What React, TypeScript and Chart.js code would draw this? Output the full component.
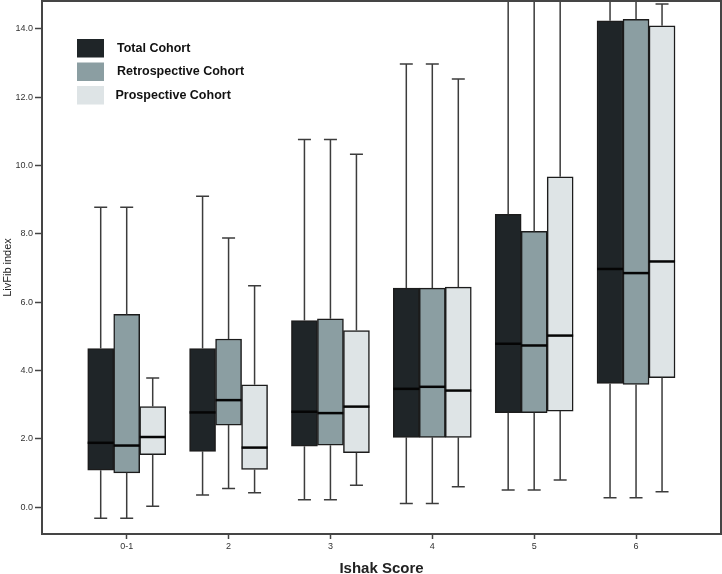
import React, { useEffect, useRef } from "react";
import { Chart, registerables } from "chart.js";

Chart.register(...registerables);

const categories = ["0-1", "2", "3", "4", "5", "6"];
const seriesNames = ["Total Cohort", "Retrospective Cohort", "Prospective Cohort"];
const seriesColors = ["#1f2528", "#8b9ea2", "#dee4e6"];
const yTicks = [0, 2, 4, 6, 8, 10, 12, 14];

// Total cohort
const totalMin = [-0.33, 0.35, 0.21, 0.1, 0.5, 0.27];
const totalQ1 = [1.08, 1.63, 1.78, 2.04, 2.76, 3.62];
const totalMedian = [1.88, 2.77, 2.79, 3.46, 4.78, 6.97];
const totalQ3 = [4.64, 4.64, 5.46, 6.41, 8.57, 14.24];
const totalMax = [8.78, 9.1, 10.76, 12.97, 16.0, 16.0];

// Retrospective cohort
const retroMin = [-0.33, 0.54, 0.21, 0.1, 0.5, 0.27];
const retroQ1 = [1.0, 2.4, 1.81, 2.04, 2.76, 3.59];
const retroMedian = [1.8, 3.13, 2.75, 3.52, 4.73, 6.85];
const retroQ3 = [5.64, 4.92, 5.51, 6.41, 8.07, 14.28];
const retroMax = [8.78, 7.88, 10.76, 12.97, 16.0, 16.0];

// Prospective cohort
const prospMin = [0.02, 0.42, 0.64, 0.59, 0.79, 0.45];
const prospQ1 = [1.53, 1.1, 1.59, 2.04, 2.81, 3.79];
const prospMedian = [2.05, 1.74, 2.94, 3.41, 5.02, 7.19];
const prospQ3 = [2.94, 3.58, 5.17, 6.44, 9.67, 14.09];
const prospMax = [3.78, 6.48, 10.33, 12.53, 16.0, 14.73];

const stats = [
  { min: totalMin, q1: totalQ1, med: totalMedian, q3: totalQ3, max: totalMax },
  { min: retroMin, q1: retroQ1, med: retroMedian, q3: retroQ3, max: retroMax },
  { min: prospMin, q1: prospQ1, med: prospMedian, q3: prospQ3, max: prospMax },
];

const FONT = "'Liberation Sans', Arial, Helvetica, sans-serif";

const boxPlugin = {
  id: "boxWhiskers",
  afterDatasetsDraw(chart: any) {
    const ctx = chart.ctx;
    const ys = chart.scales.y;
    const a = chart.chartArea;
    ctx.save();
    ctx.beginPath();
    ctx.rect(a.left, a.top, a.right - a.left, a.bottom - a.top);
    ctx.clip();
    chart.data.datasets.forEach((_ds: any, di: number) => {
      const meta = chart.getDatasetMeta(di);
      const st = stats[di];
      meta.data.forEach((bar: any, i: number) => {
        const { x, width } = bar.getProps(["x", "width"], true);
        const pq1 = ys.getPixelForValue(st.q1[i]);
        const pq3 = ys.getPixelForValue(st.q3[i]);
        const pmin = ys.getPixelForValue(st.min[i]);
        const pmax = ys.getPixelForValue(st.max[i]);
        const pmed = ys.getPixelForValue(st.med[i]);
        const cap = 6.5;
        ctx.strokeStyle = "#3c3c3c";
        ctx.lineWidth = 1.5;
        ctx.beginPath();
        ctx.moveTo(x, pq3);
        ctx.lineTo(x, pmax);
        ctx.moveTo(x - cap, pmax);
        ctx.lineTo(x + cap, pmax);
        ctx.moveTo(x, pq1);
        ctx.lineTo(x, pmin);
        ctx.moveTo(x - cap, pmin);
        ctx.lineTo(x + cap, pmin);
        ctx.stroke();
        ctx.strokeStyle = "#050505";
        ctx.lineWidth = 2.5;
        ctx.beginPath();
        ctx.moveTo(x - width / 2, pmed);
        ctx.lineTo(x + width / 2, pmed);
        ctx.stroke();
      });
    });
    ctx.restore();
    // frame
    ctx.save();
    ctx.strokeStyle = "#454545";
    ctx.lineWidth = 2;
    ctx.strokeRect(a.left, a.top, a.right - a.left, a.bottom - a.top);
    ctx.restore();
    // legend
    ctx.save();
    const lx = a.left + 35;
    const ly = a.top + 38;
    const step = 23.5;
    chart.data.datasets.forEach((ds: any, di: number) => {
      const by = ly + di * step;
      ctx.fillStyle = ds.backgroundColor;
      ctx.fillRect(lx, by, 27, 18.5);
      ctx.fillStyle = "#111";
      ctx.font = `bold 12.5px ${FONT}`;
      ctx.textBaseline = "middle";
      ctx.textAlign = "left";
      ctx.fillText(ds.label, lx + 40 - (di === 2 ? 1.5 : 0), by + 9.5);
    });
    ctx.restore();
  },
};

export default function App() {
  const ref = useRef<HTMLCanvasElement | null>(null);
  useEffect(() => {
    document.body.style.margin = "0";
    const canvas = ref.current;
    if (!canvas) return;
    const datasets = stats.map((st, di) => ({
      label: seriesNames[di],
      data: categories.map((_c, i) => ({ x: i, y: [st.q1[i], st.q3[i]] })),
      backgroundColor: seriesColors[di],
      borderColor: "#1c1c1c",
      borderWidth: 1.5,
      borderSkipped: false,
      barThickness: 26,
    }));
    const chart = new Chart(canvas, {
      type: "bar",
      data: { datasets } as any,
      plugins: [boxPlugin],
      options: {
        animation: false,
        responsive: false,
        devicePixelRatio: 1,
        layout: { padding: { top: 1, right: 1, left: 0, bottom: 0 } },
        plugins: {
          legend: { display: false },
          tooltip: { enabled: false },
        },
        scales: {
          x: {
            type: "linear",
            min: -0.8315,
            max: 5.834,
            offset: false,
            grid: {
              offset: false,
              drawOnChartArea: false,
              drawTicks: true,
              tickLength: 5,
              tickColor: "#444",
              tickWidth: 1.5,
            },
            border: { display: false },
            afterBuildTicks: (s: any) => {
              s.ticks = categories.map((_c, i) => ({ value: i }));
            },
            afterFit: (s: any) => {
              s.height = 40;
              s.paddingLeft = 0;
              s.paddingRight = 0;
            },
            ticks: {
              autoSkip: false,
              maxRotation: 0,
              padding: 2,
              color: "#333",
              font: { family: FONT, size: 9 },
              callback: (v: any) => categories[v] ?? "",
            },
            title: {
              display: true,
              text: "Ishak Score",
              color: "#222",
              font: { family: FONT, size: 15, weight: "bold" },
              padding: { top: 0, bottom: -3.5 },
            },
          },
          y: {
            type: "linear",
            min: -0.79,
            max: 14.817,
            grid: {
              drawOnChartArea: false,
              drawTicks: true,
              tickLength: 7,
              tickColor: "#444",
              tickWidth: 1.5,
            },
            border: { display: false },
            afterBuildTicks: (s: any) => {
              s.ticks = yTicks.map((v) => ({ value: v }));
            },
            afterFit: (s: any) => {
              s.width = 42;
              s.paddingTop = 0;
              s.paddingBottom = 0;
            },
            ticks: {
              padding: 2,
              color: "#333",
              font: { family: FONT, size: 9 },
              callback: (v: any) => Number(v).toFixed(1),
            },
            title: {
              display: true,
              text: "LivFib index",
              color: "#222",
              font: { family: FONT, size: 11 },
              padding: { top: 1, bottom: 0 },
            },
          },
        },
      } as any,
    });
    return () => chart.destroy();
  }, []);
  return (
    <div style={{ width: 722, height: 574, overflow: "hidden", background: "#fff" }}>
      <canvas ref={ref} width={722} height={574} style={{ display: "block" }} />
    </div>
  );
}
